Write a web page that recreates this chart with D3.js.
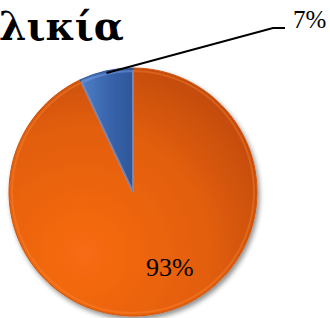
<!DOCTYPE html>
<html><head><meta charset="utf-8">
<script src="https://cdn.jsdelivr.net/npm/d3@7/dist/d3.min.js"></script>
<style>html,body{margin:0;padding:0;background:#fff;overflow:hidden}</style>
</head><body>
<svg id="c" width="330" height="318"></svg>
<script>
const title = "Ηλικία";
const categories = ["A", "B"];
const values = [93, 7];
const labels = ["93%", "7%"];
const colors = ["#E2600F", "#3A66AE"];

const svg = d3.select("#c");
const cx = 133, cy = 192, R = 124;
const defs = svg.append("defs");

const g0 = defs.append("radialGradient").attr("id","gO").attr("cx","30%").attr("cy","75%").attr("r","85%");
g0.append("stop").attr("offset","0%").attr("stop-color","#F86B12");
g0.append("stop").attr("offset","60%").attr("stop-color","#E25E0D");
g0.append("stop").attr("offset","100%").attr("stop-color","#BF4907");
const g1 = defs.append("linearGradient").attr("id","gB").attr("x1","0").attr("y1","0").attr("x2","1").attr("y2","0");
g1.append("stop").attr("offset","0%").attr("stop-color","#4F80C8");
g1.append("stop").attr("offset","50%").attr("stop-color","#3A66AE");
g1.append("stop").attr("offset","100%").attr("stop-color","#2F5699");
const fills = ["url(#gO)", "url(#gB)"];

const f = defs.append("filter").attr("id","sh").attr("x","-20%").attr("y","-20%").attr("width","140%").attr("height","140%");
f.append("feGaussianBlur").attr("in","SourceAlpha").attr("stdDeviation",2.5);
f.append("feOffset").attr("dx",2).attr("dy",3).attr("result","b");
f.append("feComponentTransfer").append("feFuncA").attr("type","linear").attr("slope",0.45);
const m = f.append("feMerge");
m.append("feMergeNode");
m.append("feMergeNode").attr("in","SourceGraphic");

const pie = d3.pie().sort(null).value(d => d)(values);
const arc = d3.arc().innerRadius(0).outerRadius(R);
const bevel = d3.arc().innerRadius(0).outerRadius(R - 3);

const g = svg.append("g").attr("transform", `translate(${cx},${cy})`);
const gs = g.append("g").attr("filter","url(#sh)");
gs.selectAll("path.s").data(pie).join("path").attr("class","s")
  .attr("d", arc).attr("fill", (d,i) => fills[i])
  .attr("stroke", (d,i) => i === 0 ? "#D05508" : "#2D528F").attr("stroke-width", 1);
g.selectAll("path.b").data(pie).join("path").attr("class","b")
  .attr("d", bevel).attr("fill","none")
  .attr("stroke", (d,i) => i === 0 ? "rgba(255,140,60,0.35)" : "rgba(120,160,230,0.5)")
  .attr("stroke-width", 2);

// 93% label
const lab = d3.arc().innerRadius(R*0.62).outerRadius(R*0.62);
const c0 = lab.centroid({startAngle: pie[0].startAngle, endAngle: pie[0].endAngle});
g.append("text").attr("x", c0[0] + 20).attr("y", c0[1] + 9)
  .attr("text-anchor","middle").attr("font-family","Liberation Serif, serif")
  .attr("font-size", 26).attr("fill","#000").text(labels[0]);

// 7% label with leader
const mid = (pie[1].startAngle + pie[1].endAngle) / 2;
const p0 = [Math.sin(mid) * (R - 2), -Math.cos(mid) * (R - 2)];
const elbow = [273 - cx, 28 - cy];
const end = [285 - cx, 28 - cy];
g.append("path").attr("d", d3.line()([p0, elbow, end]))
  .attr("fill","none").attr("stroke","#000").attr("stroke-width",2);
g.append("text").attr("x", end[0] + 8).attr("y", end[1])
  .attr("font-family","Liberation Serif, serif").attr("font-size", 25)
  .attr("fill","#000").text(labels[1]);

// title (cropped at left like the reference): first letter sits off-canvas
const t = svg.append("text").attr("y", 40)
  .attr("font-family","DejaVu Serif, serif").attr("font-weight","bold")
  .attr("font-size", 40).attr("fill","#000").text(title);
const node = t.node();
const firstW = node.getSubStringLength(0, 1);
const restW = node.getComputedTextLength() - firstW;
const fs = 40 * Math.min(1.15, 125 / restW);
t.attr("font-size", fs);
const firstW2 = node.getSubStringLength(0, 1);
t.attr("x", -firstW2 - 1);
</script>
</body></html>
